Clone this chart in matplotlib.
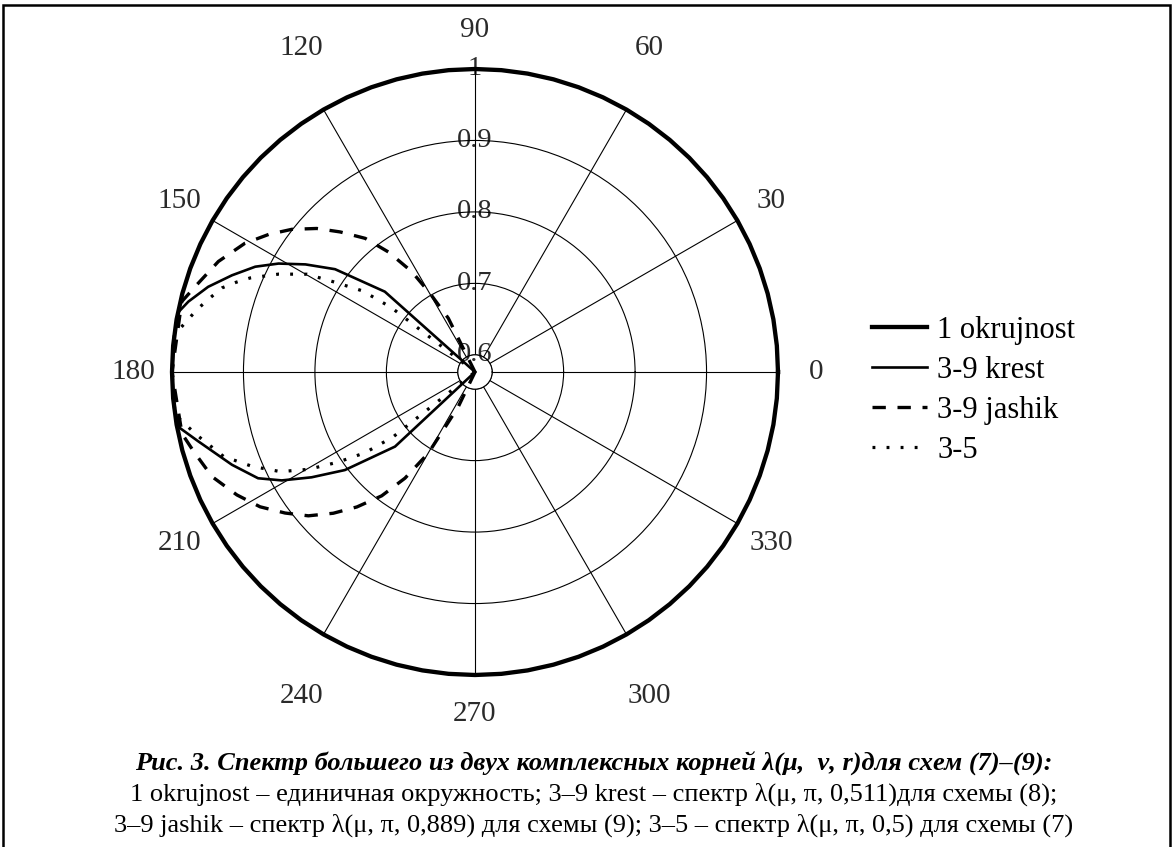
import numpy as np
import matplotlib
matplotlib.use("Agg")
import matplotlib.pyplot as plt
from matplotlib.patches import Rectangle

plt.rcParams["font.family"] = ["Liberation Serif", "DejaVu Serif"]

# angle ticks and radial ticks
angle_ticks = list(range(0, 360, 30))
r_ticks = [0.6, 0.7, 0.8, 0.9, 1.0]
r_tick_labels = ["0.6", "0.7", "0.8", "0.9", "1"]

# unit circle
okr_theta = list(range(0, 365, 5))
okr_r = [1.0] * len(okr_theta)

# 3-9 krest
krest_theta = [138.3, 138.3, 142.3, 143.7, 147.6, 151.1, 154.4, 158.3, 162.3, 166.2,
               168.5, 172.4, 180.0, 187.0, 190.8, 194.1, 200.9, 206.1, 209.3, 212.8,
               217.0, 223.0, 223.0]
krest_r = [0.576, 0.745, 0.794, 0.819, 0.857, 0.890, 0.917, 0.942, 0.968, 0.989,
           0.999, 1.0, 1.0, 1.0, 0.996, 0.975, 0.940, 0.914, 0.886, 0.848,
           0.804, 0.729, 0.576]

# 3-9 jashik
jashik_theta = [116.4, 116.4, 119.8, 122.2, 125.8, 129.4, 133.9, 137.8, 142.1, 146.3,
                150.8, 156.7, 162.6, 166.5, 180.0, 191.9, 195.8, 201.7, 207.3, 212.1,
                216.6, 220.8, 224.9, 228.8, 233.0, 236.6, 240.1, 244.3, 244.3]
jashik_r = [0.576, 0.660, 0.703, 0.742, 0.783, 0.818, 0.848, 0.875, 0.901, 0.923,
            0.945, 0.967, 0.984, 0.998, 1.0, 0.995, 0.985, 0.972, 0.951, 0.931,
            0.907, 0.884, 0.856, 0.827, 0.793, 0.754, 0.707, 0.630, 0.576]

# 3-5
s35_theta = [142.4, 142.4, 144.2, 147.5, 149.8, 153.5, 157.3, 159.4, 161.6, 164.8,
             167.4, 173.0, 180.0, 188.1, 192.8, 198.6, 202.9, 207.1, 210.3, 213.3,
             216.3, 218.4, 218.4]
s35_r = [0.576, 0.724, 0.770, 0.811, 0.848, 0.883, 0.917, 0.933, 0.949, 0.963,
         0.975, 1.0, 1.0, 1.0, 0.975, 0.947, 0.915, 0.882, 0.846, 0.806,
         0.767, 0.722, 0.576]

caption_title = "Рис. 3. Спектр большего из двух комплексных корней λ(μ,  ν, r)для схем (7)–(9):"
caption_line1 = "1 okrujnost – единичная окружность; 3–9 krest – спектр λ(μ, π, 0,511)для схемы (8);"
caption_line2 = "3–9 jashik – спектр λ(μ, π, 0,889) для схемы (9); 3–5 – спектр λ(μ, π, 0,5) для схемы (7)"

W, H = 1173, 847
fig = plt.figure(figsize=(W / 100, H / 100), dpi=100)
fig.patch.set_facecolor("white")

cx, cy, R = 475, 372, 303
ax = fig.add_axes([(cx - R) / W, (H - cy - R) / H, 2 * R / W, 2 * R / H],
                  projection="polar")
ax.set_ylim(0.6, 1.0)
ax.set_rorigin(0.576)

label_color = "#2a2a2a"
ax.set_xticks(np.deg2rad(angle_ticks))
ax.set_xticklabels([])
ax.tick_params(axis="x", length=0)
ax.set_yticks(r_ticks)
ax.set_yticklabels([])
ax.tick_params(axis="y", length=0)
ax.grid(True, color="black", linewidth=0.8)
for sp in ax.spines.values():
    sp.set_color("black")
    sp.set_linewidth(0.8)

# angle labels: the 60/120/240/300 ones sit further out and nearer the
# vertical axis, as in the source
for a in angle_ticks:
    rad = np.deg2rad(a)
    if a % 180 in (60, 120):
        r_lab = 1.091
        th = a + 1.8 * np.sign(np.sin(rad)) * np.sign(np.cos(rad))
    else:
        r_lab = 1.054
        th = a
    ax.text(np.deg2rad(th), r_lab, str(a), ha="center", va="center",
            fontsize=21, color=label_color, clip_on=False)

for r, lab in zip(r_ticks, r_tick_labels):
    ax.text(np.pi / 2, r, lab, ha="center", va="center", fontsize=20.5,
            color=label_color, zorder=1)

ax.plot(np.deg2rad(okr_theta), okr_r, color="black", lw=3.1,
        label="1 okrujnost", clip_on=False, zorder=5)
ax.plot(np.deg2rad(krest_theta), krest_r, color="black", lw=1.9,
        label="3-9 krest", clip_on=False, zorder=4)
ax.plot(np.deg2rad(jashik_theta), jashik_r, color="black", lw=2.4,
        linestyle=(0, (4, 3.5)), label="3-9 jashik", clip_on=False, zorder=4)
ax.plot(np.deg2rad(s35_theta), s35_r, color="black", lw=2.3,
        linestyle=(0, (0.9, 3.5)), label="3-5", clip_on=False, zorder=4)

fig.legend(loc="upper left", bbox_to_anchor=(872 / W, 1 - 316 / H),
           frameon=False, fontsize=22, handlelength=1.8, handletextpad=0.33,
           labelspacing=0.36, borderpad=0, borderaxespad=0)

fig.text(0.506, 1 - 771 / H, caption_title, ha="center", va="baseline",
         fontsize=19, fontweight="bold", fontstyle="italic")
fig.text(0.506, 1 - 801 / H, caption_line1, ha="center", va="baseline", fontsize=19)
fig.text(0.506, 1 - 832 / H, caption_line2, ha="center", va="baseline", fontsize=19)

fig.patches.append(Rectangle((3 / W, -0.05), (1170 - 3) / W, 1.05 - 5 / H,
                             transform=fig.transFigure, fill=False,
                             edgecolor="black", linewidth=1.8))

fig.savefig("out.png", dpi=100)
